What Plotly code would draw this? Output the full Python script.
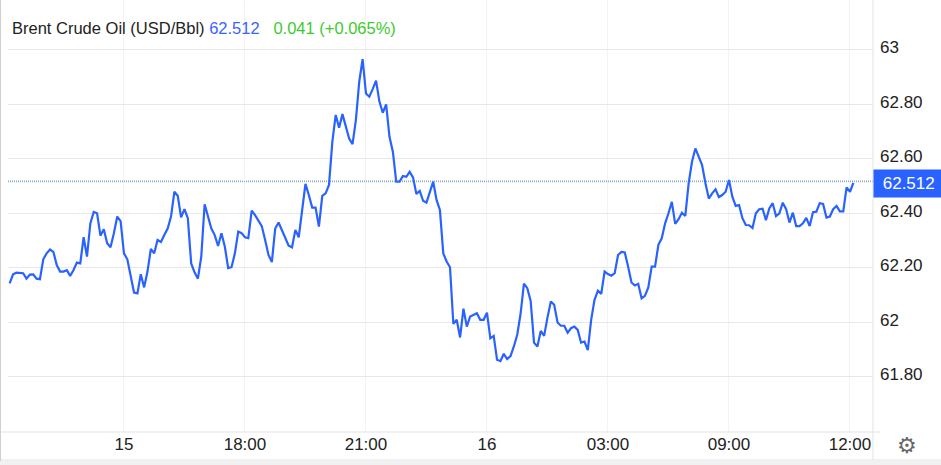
import plotly.graph_objects as go

# 5 minute closes
prices = [
    62.143, 62.176, 62.182, 62.180, 62.180, 62.160, 62.175, 62.176, 62.160, 62.158,
    62.231, 62.253, 62.267, 62.258, 62.210, 62.186, 62.186, 62.191, 62.170, 62.192,
    62.219, 62.216, 62.312, 62.241, 62.363, 62.405, 62.400, 62.318, 62.341, 62.290,
    62.275, 62.327, 62.388, 62.371, 62.253, 62.231, 62.168, 62.109, 62.106, 62.176,
    62.128, 62.186, 62.269, 62.253, 62.302, 62.295, 62.320, 62.344, 62.388, 62.479,
    62.464, 62.385, 62.415, 62.382, 62.216, 62.183, 62.160, 62.241, 62.433, 62.388,
    62.344, 62.320, 62.280, 62.327, 62.278, 62.199, 62.202, 62.253, 62.333, 62.327,
    62.312, 62.309, 62.410, 62.393, 62.374, 62.353, 62.302, 62.247, 62.221, 62.344,
    62.366, 62.339, 62.308, 62.281, 62.275, 62.339, 62.312, 62.418, 62.508, 62.467,
    62.421, 62.421, 62.351, 62.464, 62.473, 62.504, 62.663, 62.761, 62.714, 62.764,
    62.720, 62.674, 62.654, 62.742, 62.883, 62.966, 62.840, 62.828, 62.856, 62.887,
    62.810, 62.769, 62.800, 62.681, 62.626, 62.516, 62.516, 62.537, 62.534, 62.552,
    62.532, 62.471, 62.482, 62.446, 62.439, 62.479, 62.516, 62.449, 62.412, 62.253,
    62.223, 62.202, 61.994, 62.009, 61.944, 62.050, 61.984, 62.021, 62.028, 62.033,
    62.009, 62.009, 62.035, 61.941, 61.950, 61.862, 61.857, 61.884, 61.865, 61.876,
    61.911, 61.954, 62.031, 62.142, 62.125, 62.078, 61.925, 61.911, 61.968, 61.950,
    62.017, 62.076, 62.064, 61.999, 61.987, 61.987, 61.962, 61.978, 61.984, 61.972,
    61.925, 61.929, 61.898, 62.009, 62.082, 62.116, 62.104, 62.186, 62.177, 62.171,
    62.180, 62.247, 62.258, 62.256, 62.204, 62.146, 62.135, 62.141, 62.088, 62.097,
    62.128, 62.204, 62.204, 62.284, 62.308, 62.363, 62.400, 62.442, 62.361, 62.378,
    62.402, 62.390, 62.510, 62.589, 62.638, 62.608, 62.577, 62.510, 62.454, 62.473,
    62.488, 62.459, 62.467, 62.479, 62.522, 62.461, 62.427, 62.430, 62.382, 62.357,
    62.356, 62.346, 62.400, 62.415, 62.417, 62.375, 62.418, 62.437, 62.390, 62.400,
    62.439, 62.415, 62.366, 62.402, 62.353, 62.353, 62.363, 62.383, 62.353, 62.404,
    62.406, 62.437, 62.434, 62.384, 62.388, 62.415, 62.427, 62.407, 62.407, 62.495,
    62.479, 62.512,
]
last_price = 62.512

x_tick_pos = [34, 70, 106, 142, 178, 214, 250]
x_tick_labels = ["15", "18:00", "21:00", "16", "03:00", "09:00", "12:00"]
y_ticks = [61.8, 62, 62.2, 62.4, 62.6, 62.8, 63]
y_tick_labels = ["61.80", "62", "62.20", "62.40", "62.60", "62.80", "63"]

BLUE = "#2962ff"
FONT = "Liberation Sans"

fig = go.Figure()
fig.add_trace(go.Scatter(
    x=list(range(len(prices))), y=prices, mode="lines",
    line=dict(color=BLUE, width=2.2), hoverinfo="skip",
))

# last price line, a faint green dotted one just above the blue one
fig.add_hline(y=last_price + 0.008, line=dict(color="#8fc46a", width=1, dash="1px,1px"),
              opacity=0.6, layer="below")
fig.add_hline(y=last_price + 0.004, line=dict(color="#4f7dff", width=1, dash="1px,1px"),
              opacity=0.8, layer="above")

# frame round the chart
border = "#e3e3e3"
for x0, y0, x1, y1, col in [
    (873, 0, 873, 460, border),
    (0, 432, 880, 432, border),
    (0, 460, 941, 460, border),
    (0.5, 0, 0.5, 465, "#cfcfcf"),
]:
    fig.add_shape(type="line", xref="paper", yref="paper",
                  x0=x0 / 865 - 8 / 865, x1=x1 / 865 - 8 / 865,
                  y0=(432 - y0) / 432, y1=(432 - y1) / 432,
                  line=dict(color=col, width=1))
fig.add_shape(type="rect", xref="paper", yref="paper", x0=-8 / 865, x1=933 / 865,
              y0=-33 / 432, y1=-29 / 432, line=dict(width=0), fillcolor="#f1f1f1")

# y labels sit a little above their grid lines
for val, label in zip(y_ticks, y_tick_labels):
    fig.add_annotation(
        xref="paper", yref="y", x=1, y=val, xanchor="left", yanchor="middle",
        xshift=5, yshift=2, text=label, showarrow=False,
        font=dict(family=FONT, size=17, color="#222"),
    )

# price tag on the axis
fig.add_annotation(
    xref="paper", yref="y", x=1, y=last_price, xanchor="left", yanchor="middle",
    yshift=-1, text="&nbsp;62.512", showarrow=False, bgcolor=BLUE, width=60, height=19, borderpad=4,
    font=dict(family=FONT, size=17, color="white"), align="left",
)

fig.add_annotation(
    xref="paper", yref="paper", x=2 / 865, y=(432 - 28) / 432, xanchor="left", yanchor="middle",
    showarrow=False,
    text=("<span style='color:#222'>Brent Crude Oil (USD/Bbl)</span> "
          "<span style='color:#3d63ff'>62.512</span>&nbsp;&nbsp; "
          "<span style='color:#3ccb2c'>0.041 (+0.065%)</span>"),
    font=dict(family=FONT, size=16.5),
)
fig.add_annotation(
    xref="paper", yref="paper", x=(907 - 8) / 865, y=-13 / 432, xanchor="center", yanchor="middle",
    text="⚙", showarrow=False, font=dict(family="DejaVu Sans", size=22, color="#666"),
)

fig.update_layout(
    width=941, height=465,
    margin=dict(l=8, r=68, t=0, b=33),
    paper_bgcolor="white", plot_bgcolor="white",
    showlegend=False,
    font=dict(family=FONT, color="#222", size=17),
    xaxis=dict(
        range=[-0.5, 256.85], tickmode="array", tickvals=x_tick_pos, ticktext=x_tick_labels,
        showgrid=True, gridcolor="#f3f3f3", gridwidth=1, zeroline=False, showline=False,
        ticks="", tickfont=dict(size=17),
    ),
    yaxis=dict(
        side="right", range=[61.597, 63.183], tickvals=y_ticks,
        showgrid=True, gridcolor="#e8e8e8", gridwidth=1, zeroline=False, showline=False,
        ticks="", showticklabels=False,
    ),
)

fig.write_html("out.html", config=dict(displayModeBar=False),
               post_script="document.body.style.margin='0';")
